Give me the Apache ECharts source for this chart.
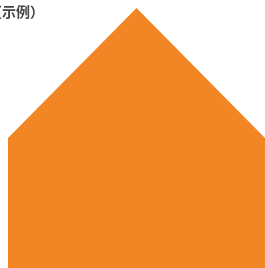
<!DOCTYPE html>
<html>
<head>
<meta charset="utf-8">
<script src="https://cdn.jsdelivr.net/npm/echarts@6/dist/echarts.min.js"></script>
<style>
  html, body { margin: 0; padding: 0; background: #fff; }
  #root { width: 265px; height: 268px; }
</style>
</head>
<body>
<div id="root"></div>
<script>
const titleText = '（示例）';
const categories = ['A', 'B', 'C'];
const values = [50, 100, 50];

const chart = echarts.init(document.getElementById('root'));
chart.setOption({
  animation: false,
  title: {
    text: titleText,
    left: -17,
    top: 0,
    textStyle: { fontSize: 14, fontWeight: 'bold', color: '#444', fontFamily: 'Noto Sans CJK SC' }
  },
  grid: { left: 8, right: -1, top: 8, bottom: 0 },
  xAxis: {
    type: 'category',
    boundaryGap: false,
    data: categories,
    show: false
  },
  yAxis: { type: 'value', min: 0, max: 100, show: false },
  series: [{
    type: 'line',
    data: values,
    symbol: 'none',
    lineStyle: { width: 0 },
    areaStyle: { color: '#F28524', opacity: 1 }
  }]
});
</script>
</body>
</html>
